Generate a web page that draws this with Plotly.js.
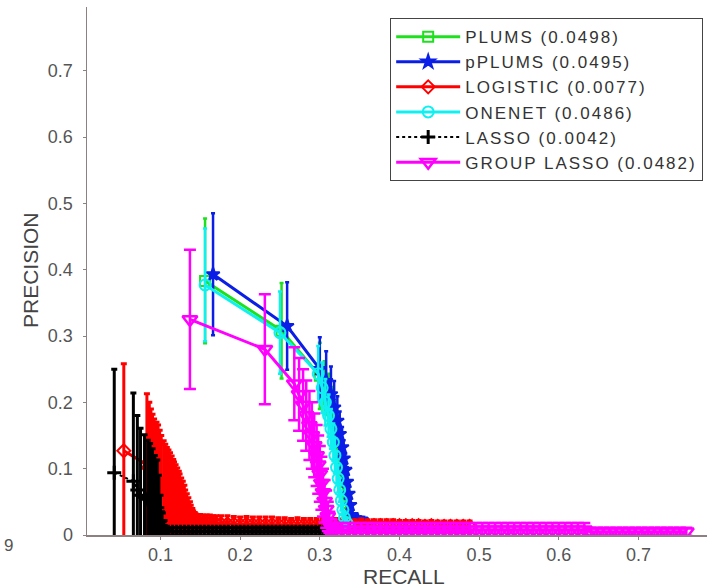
<!DOCTYPE html>
<html>
<head>
<meta charset="utf-8">
<script src="https://cdn.plot.ly/plotly-3.0.1.min.js"></script>
<style>
html,body{margin:0;padding:0;background:#fff;}
#chart{width:707px;height:587px;}
.legendtext{letter-spacing:2px;}
</style>
</head>
<body>
<div id="chart"></div>
<script>
// ---------- DATA ----------
const seriesNames = ["PLUMS (0.0498)", "pPLUMS (0.0495)", "LOGISTIC (0.0077)", "ONENET (0.0486)", "LASSO (0.0042)", "GROUP LASSO (0.0482)"];

const plumsRecall = [0.156,0.252,0.300,0.306,0.311,0.315,0.318,0.321,0.323,0.325,0.327,0.329,0.331,0.333,0.335,0.337,0.340,0.343];
const plumsPrec   = [0.383,0.308,0.240,0.222,0.205,0.188,0.170,0.152,0.135,0.118,0.100,0.082,0.065,0.048,0.033,0.022,0.016,0.013];
const plumsErr    = [0.094,0.072,0.050,0.040,0.038,0.035,0.032,0.030,0.028,0.026,0.024,0.021,0.018,0.015,0.012,0.010,0.008,0.007];

const pplumsRecall = [0.166,0.259,0.300,0.308,0.314,0.318,0.322,0.325,0.328,0.330,0.332,0.334,0.336,0.338,0.340,0.343,0.347,0.351,0.355,0.359];
const pplumsPrec   = [0.393,0.315,0.250,0.232,0.212,0.192,0.172,0.152,0.132,0.115,0.098,0.080,0.062,0.045,0.030,0.022,0.020,0.019,0.018,0.017];
const pplumsErr    = [0.092,0.066,0.048,0.045,0.042,0.040,0.037,0.034,0.031,0.028,0.025,0.022,0.019,0.016,0.012,0.010,0.010,0.009,0.009,0.008];

const logisticRecall = [0.054,0.083,0.086,0.088,0.090,0.092,0.095,0.097,0.099,0.101,0.104,0.106,0.108,0.110,0.112,0.114,0.116,0.117,0.119,0.121,
  0.123,0.124,0.126,0.128,0.130,0.131,0.133,0.135,0.137,0.138,0.140,0.141,0.143,0.144,
  0.147,0.150,0.154,0.158,0.162,0.166,0.170,
  0.176,0.184,0.192,0.200,0.208,0.216,0.224,0.232,0.240,0.248,0.256,0.264,0.272,0.280,0.288,0.296,0.304,0.312,0.320,0.328,
  0.336,0.344,0.352,0.360,0.368,0.376,0.384,0.392,0.400,0.408,0.416,0.424,0.432,0.440,0.448,0.456,0.464,0.472,0.480,0.488];
const logisticPrec = [0.127,0.106,0.100,0.095,0.091,0.088,0.085,0.083,0.079,0.075,0.071,0.068,0.066,0.064,0.062,0.060,0.057,0.055,0.053,0.050,
  0.048,0.046,0.043,0.041,0.038,0.035,0.032,0.029,0.026,0.024,0.022,0.020,0.019,0.018,
  0.018,0.018,0.018,0.018,0.018,0.017,0.017,
  0.017,0.017,0.017,0.016,0.017,0.016,0.016,0.016,0.016,0.016,0.016,0.015,0.016,0.015,0.015,0.015,0.015,0.015,0.015,0.015,
  0.015,0.014,0.015,0.014,0.014,0.014,0.014,0.014,0.014,0.014,0.014,0.014,0.013,0.014,0.013,0.013,0.013,0.013,0.013,0.013];
const logisticErr  = [0.131,0.107,0.100,0.095,0.091,0.087,0.085,0.083,0.079,0.075,0.071,0.069,0.066,0.064,0.062,0.059,0.057,0.055,0.053,0.051,
  0.048,0.046,0.043,0.040,0.037,0.033,0.030,0.027,0.024,0.021,0.018,0.016,0.015,0.014,
  0.013,0.013,0.012,0.012,0.012,0.012,0.012,
  0.012,0.012,0.011,0.011,0.011,0.011,0.011,0.011,0.011,0.010,0.010,0.010,0.010,0.010,0.010,0.010,0.010,0.010,0.010,0.009,
  0.009,0.009,0.009,0.009,0.009,0.009,0.009,0.009,0.008,0.008,0.008,0.008,0.008,0.008,0.008,0.008,0.008,0.008,0.008,0.008];

const onenetRecall = [0.156,0.250,0.298,0.303,0.307,0.311,0.314,0.317,0.319,0.321,0.323,0.325,0.327,0.329,0.331,0.334];
const onenetPrec   = [0.377,0.305,0.243,0.222,0.200,0.180,0.160,0.140,0.120,0.102,0.085,0.068,0.052,0.038,0.026,0.018];
const onenetErr    = [0.085,0.062,0.042,0.038,0.035,0.032,0.030,0.028,0.026,0.024,0.021,0.018,0.015,0.012,0.010,0.008];

const lassoRecall = [0.042,0.066,0.071,0.075,0.080,0.084,0.087,0.090,0.093,0.096,0.098,0.100,0.102,0.104,0.107,
  0.110,0.115,0.120,0.125,0.130,0.135,0.140,0.145,0.150,0.155,0.160,0.165,0.170,0.175,0.180,0.185,0.190,0.195,0.200,0.205,
  0.210,0.215,0.220,0.225,0.230,0.235,0.240,0.245,0.250,0.255,0.260,0.265,0.270,0.275,0.280,0.285,0.290,0.295,0.300,0.305,0.310];
const lassoPrec   = [0.094,0.081,0.068,0.060,0.057,0.054,0.052,0.049,0.045,0.041,0.033,0.022,0.013,0.008,0.006,
  0.005,0.005,0.005,0.005,0.005,0.005,0.005,0.005,0.005,0.005,0.005,0.005,0.005,0.005,0.005,0.005,0.005,0.005,0.005,0.005,
  0.005,0.005,0.005,0.005,0.005,0.005,0.005,0.005,0.005,0.005,0.005,0.005,0.005,0.005,0.005,0.005,0.005,0.005,0.005,0.005,0.005];
const lassoErr    = [0.156,0.133,0.112,0.101,0.094,0.089,0.086,0.081,0.075,0.072,0.057,0.038,0.022,0.012,0.007,
  0.006,0.006,0.006,0.006,0.006,0.006,0.006,0.006,0.006,0.006,0.006,0.006,0.006,0.006,0.006,0.006,0.006,0.006,0.006,0.006,
  0.006,0.006,0.006,0.006,0.006,0.006,0.006,0.006,0.006,0.006,0.006,0.006,0.006,0.006,0.006,0.006,0.006,0.006,0.006,0.006,0.006];

const groupRecall = [0.137,0.231,0.268,0.274,0.279,0.283,0.287,0.290,0.293,0.296,0.298,0.300,0.302,0.304,0.306,0.308,0.310,0.312,0.314,0.317,
  0.320,0.328,0.336,0.344,0.352,0.360,0.368,0.376,0.384,0.392,0.400,0.408,0.416,0.424,0.432,0.440,0.448,0.456,0.464,0.472,
  0.480,0.488,0.496,0.504,0.512,0.520,0.528,0.536,0.544,0.552,0.560,0.568,0.576,0.584,0.592,0.600,0.608,0.616,0.624,0.632,
  0.640,0.648,0.656,0.664,0.672,0.680,0.688,0.696,0.704,0.712,0.720,0.728,0.736,0.744,0.752,0.760];
const groupPrec   = [0.325,0.280,0.228,0.212,0.196,0.180,0.165,0.150,0.135,0.120,0.106,0.092,0.078,0.064,0.051,0.039,0.028,0.019,0.012,0.009,
  0.008,0.008,0.008,0.008,0.008,0.008,0.008,0.008,0.008,0.008,0.008,0.008,0.008,0.008,0.008,0.008,0.008,0.008,0.008,0.008,
  0.008,0.008,0.008,0.008,0.008,0.008,0.008,0.008,0.008,0.008,0.008,0.008,0.008,0.008,0.008,0.008,0.008,0.008,0.008,0.008,
  0.005,0.005,0.005,0.005,0.005,0.005,0.005,0.005,0.005,0.005,0.005,0.005,0.005,0.005,0.005,0.005];
const groupErr    = [0.105,0.083,0.055,0.055,0.054,0.053,0.052,0.050,0.048,0.046,0.044,0.042,0.040,0.036,0.032,0.028,0.022,0.016,0.012,0.010,
  0.010,0.010,0.010,0.010,0.010,0.010,0.010,0.010,0.010,0.010,0.010,0.010,0.010,0.010,0.010,0.010,0.010,0.010,0.010,0.010,
  0.010,0.010,0.010,0.010,0.010,0.010,0.010,0.010,0.010,0.010,0.010,0.010,0.010,0.010,0.010,0.010,0.010,0.010,0.010,0.010,
  0.006,0.006,0.006,0.006,0.006,0.006,0.006,0.006,0.006,0.006,0.006,0.006,0.006,0.006,0.006,0.006];

const yTickVals = [0,0.1,0.2,0.3,0.4,0.5,0.6,0.7];
const yTickText = ["0","0.1","0.2","0.3","0.4","0.5","0.6","0.7"];
const xTickVals = [0.1,0.2,0.3,0.4,0.5,0.6,0.7];
const xTickText = ["0.1","0.2","0.3","0.4","0.5","0.6","0.7"];

// ---------- TRACES ----------
function tr(name, x, y, err, color, symbol, msize, dash, capw, thick) {
  return {
    type: 'scatter', mode: 'lines+markers', name: name, x: x, y: y,
    line: {color: color, width: 3, dash: dash || 'solid'},
    marker: {symbol: symbol, size: msize, color: color, line: {color: color, width: 2}},
    error_y: {type: 'data', array: err, visible: true, color: color, thickness: thick || 2.5, width: capw}
  };
}
const data = [
  tr(seriesNames[0], plumsRecall, plumsPrec, plumsErr, '#1fe01f', 'square-open', 10, 'solid', 2),
  tr(seriesNames[1], pplumsRecall, pplumsPrec, pplumsErr, '#0a1ee6', 'star', 10, 'solid', 2),
  tr(seriesNames[2], logisticRecall, logisticPrec, logisticErr, '#ff0000', 'diamond-open', 10, 'solid', 3, 3),
  tr(seriesNames[3], onenetRecall, onenetPrec, onenetErr, '#11f0f0', 'circle-open', 11, 'solid', 2),
  tr(seriesNames[4], lassoRecall, lassoPrec, lassoErr, '#000000', 'cross-thin-open', 10, 'dot', 3, 3),
  tr(seriesNames[5], groupRecall, groupPrec, groupErr, '#ff00ff', 'triangle-down-open', 13, 'solid', 6)
];
data[4].line.width = 2;
data[4].marker.line.width = 3;
data[5].marker.line.width = 2.5;

const axisCol = '#8c8080';
const layout = {
  width: 707, height: 587,
  margin: {l: 87, r: 0, t: 7, b: 52},
  paper_bgcolor: '#ffffff', plot_bgcolor: '#ffffff',
  font: {family: 'Liberation Sans, Arial, sans-serif', color: '#444444', size: 18},
  showlegend: true,
  legend: {
    x: 0.489, xanchor: 'left', y: 0.979, yanchor: 'top',
    bgcolor: '#ffffff', bordercolor: '#444444', borderwidth: 1,
    font: {size: 17, color: '#333333'}, itemwidth: 64, tracegroupgap: 0
  },
  xaxis: {
    range: [0.0078, 0.786], tickvals: xTickVals, ticktext: xTickText,
    showgrid: false, zeroline: false, showline: true, linecolor: axisCol, linewidth: 1.5,
    ticks: 'outside', ticklen: 3, tickcolor: axisCol, tickfont: {size: 18, color: '#555555'}
  },
  yaxis: {
    range: [0, 0.796], tickvals: yTickVals, ticktext: yTickText,
    showgrid: false, zeroline: false, showline: true, linecolor: axisCol, linewidth: 1.5,
    ticks: 'outside', ticklen: 3, tickcolor: axisCol, tickfont: {size: 18, color: '#555555'},
    ticklabelstandoff: 6
  },
  annotations: [
    {text: 'RECALL', xref: 'paper', yref: 'paper', x: (404 - 87) / 620, y: -(576 - 535) / 528,
     xanchor: 'center', yanchor: 'middle', showarrow: false, font: {size: 21, color: '#444444'}},
    {text: 'PRECISION', xref: 'paper', yref: 'paper', x: (30 - 87) / 620, y: (535 - 270) / 528,
     xanchor: 'center', yanchor: 'middle', textangle: -90, showarrow: false, font: {size: 21, color: '#444444'}},
    {text: '9', xref: 'paper', yref: 'paper', x: (8 - 87) / 620, y: -(545 - 535) / 528,
     xanchor: 'center', yanchor: 'middle', showarrow: false, font: {size: 17, color: '#555555'}}
  ]
};
Plotly.newPlot('chart', data, layout, {staticPlot: true, displayModeBar: false});
</script>
</body>
</html>
